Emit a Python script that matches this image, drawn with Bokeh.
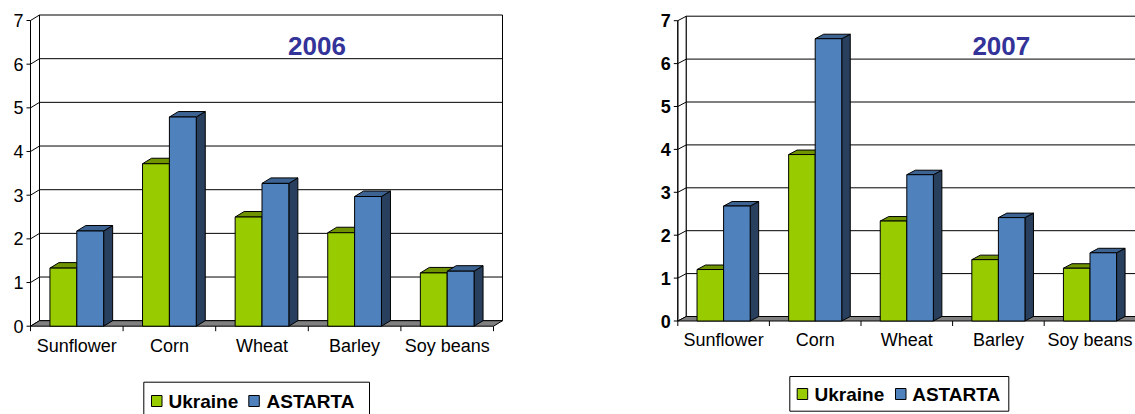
from bokeh.plotting import figure
from bokeh.layouts import row
from bokeh.models import Range1d
from bokeh.core.properties import value
from bokeh.embed import file_html
from bokeh.resources import INLINE

# Yields by crop (t/ha): Ukraine average vs ASTARTA
crops = ["Sunflower", "Corn", "Wheat", "Barley", "Soy beans"]
series = ["Ukraine", "ASTARTA"]
ukraine_2006 = [1.33, 3.72, 2.50, 2.14, 1.22]
astarta_2006 = [2.18, 4.79, 3.27, 2.97, 1.26]
ukraine_2007 = [1.20, 3.88, 2.33, 1.43, 1.23]
astarta_2007 = [2.68, 6.58, 3.41, 2.41, 1.59]
y_ticks = [0, 1, 2, 3, 4, 5, 6, 7]

FONT = value("Liberation Sans")
COLORS = [
    {"front": "#99cc00", "top": "#6f9400", "side": "#4d6600"},
    {"front": "#4f81bd", "top": "#3c6392", "side": "#283f5e"},
]
BAR_W = 0.29


def make_chart(title, ukr, ast, width, x0, cw, y0, s, dxp, dyp, bold_ticks,
               title_cx, cat_mid, leg):
    # pixel -> data helpers for layout-only items
    X = lambda px: (px - x0) / cw
    Y = lambda py: (y0 - py) / s
    dx, dy = dxp / cw, dyp / s
    n = len(crops)
    ymax = y_ticks[-1]

    p = figure(width=width, height=414,
               x_range=Range1d(X(0), X(width)), y_range=Range1d(Y(414), Y(0)),
               output_backend="svg", toolbar_location=None,
               x_axis_location=None, y_axis_location=None,
               min_border=0, outline_line_color=None, background_fill_color="white")
    p.min_border_left = p.min_border_right = p.min_border_top = p.min_border_bottom = 0
    p.grid.grid_line_color = None

    # walls
    p.patch([0, dx, dx, 0], [0, dy, ymax + dy, ymax],
            fill_color="white", line_color="black", line_width=1)
    p.quad(left=[dx], right=[n + dx], bottom=[dy], top=[ymax + dy],
           fill_color="white", line_color="black", line_width=1)
    inner = y_ticks[1:-1]
    p.segment(x0=[dx] * len(inner), y0=[k + dy for k in inner],
              x1=[n + dx] * len(inner), y1=[k + dy for k in inner],
              line_color="black", line_width=1)
    p.segment(x0=[0] * len(inner), y0=inner,
              x1=[dx] * len(inner), y1=[k + dy for k in inner],
              line_color="black", line_width=1)
    # floor
    p.patch([0, n, n + dx, dx], [0, 0, dy, dy],
            fill_color="#808080", line_color="black", line_width=1)

    # value axis
    p.segment(x0=[0], y0=[0], x1=[0], y1=[ymax], line_color="black", line_width=1)
    p.segment(x0=[X(x0 - 4)] * len(y_ticks), y0=y_ticks,
              x1=[0] * len(y_ticks), y1=y_ticks, line_color="black", line_width=1)
    # category axis ticks between groups
    p.segment(x0=list(range(n + 1)), y0=[0] * (n + 1),
              x1=list(range(n + 1)), y1=[Y(y0 + 5)] * (n + 1),
              line_color="black", line_width=1)

    # 3D columns
    for j, vals in enumerate([ukr, ast]):
        c = COLORS[j]
        lefts = [i + 0.5 - BAR_W + j * BAR_W for i in range(n)]
        rights = [l + BAR_W for l in lefts]
        side_xs = [[r, r + dx, r + dx, r] for r in rights]
        side_ys = [[0, dy, v + dy, v] for v in vals]
        top_xs = [[l, r, r + dx, l + dx] for l, r in zip(lefts, rights)]
        top_ys = [[v, v, v + dy, v + dy] for v in vals]
        p.patches(side_xs, side_ys, fill_color=c["side"], line_color="black", line_width=1)
        p.patches(top_xs, top_ys, fill_color=c["top"], line_color="black", line_width=1)
        p.quad(left=lefts, right=rights, bottom=[0] * n, top=vals,
               fill_color=c["front"], line_color="black", line_width=1)

    # tick labels
    p.text(x=[X(x0 - 7)] * len(y_ticks), y=y_ticks, text=[str(t) for t in y_ticks],
           text_font=FONT, text_font_size="18px",
           text_font_style="bold" if bold_ticks else "normal",
           text_align="right", text_baseline="middle", text_color="black")
    p.text(x=[i + 0.5 for i in range(n)], y=[Y(cat_mid)] * n, text=crops,
           text_font=FONT, text_font_size="18px", text_align="center",
           text_baseline="middle", text_color="black")

    # title
    p.text(x=[X(title_cx)], y=[Y(45.0)], text=[title], text_font=FONT,
           text_font_size="26px", text_font_style="bold", text_color="#333399",
           text_align="center", text_baseline="middle")

    # legend
    bx0, bx1, by0, by1 = leg["box"]
    p.quad(left=[X(bx0)], right=[X(bx1)], top=[Y(by0)], bottom=[Y(by1)],
           fill_color="white", line_color="black", line_width=1)
    sy0, sy1 = leg["sq_y"]
    for j, name in enumerate(series):
        sx = leg["sq_x"][j]
        p.quad(left=[X(sx)], right=[X(sx + 10.5)], top=[Y(sy0)], bottom=[Y(sy1)],
               fill_color=COLORS[j]["front"], line_color="black", line_width=1)
        p.text(x=[X(leg["txt_x"][j])], y=[Y(leg["mid"])], text=[name], text_font=FONT,
               text_font_size="19px", text_font_style="bold", text_color="black",
               text_align="left", text_baseline="middle")
    return p


p1 = make_chart("2006", ukraine_2006, astarta_2006, 567,
                x0=30.0, cw=92.6, y0=325.7, s=43.67, dxp=9.0, dyp=5.5,
                bold_ticks=False, title_cx=316.5, cat_mid=345.0,
                leg={"box": (143.3, 369.0, 381.7, 420.0), "sq_y": (395.0, 406.0),
                     "sq_x": (151.0, 248.3), "txt_x": (168.0, 266.0), "mid": 401.0})
p2 = make_chart("2007", ukraine_2007, astarta_2007, 568,
                x0=110.3, cw=91.6, y0=320.5, s=42.9, dxp=8.5, dyp=4.5,
                bold_ticks=True, title_cx=433.8, cat_mid=339.2,
                leg={"box": (222.3, 441.3, 376.0, 410.7), "sq_y": (388.0, 399.0),
                     "sq_x": (229.7, 328.0), "txt_x": (247.0, 344.7), "mid": 393.5})

layout = row(p1, p2, spacing=0)
open("out.html", "w").write(file_html(layout, INLINE))
